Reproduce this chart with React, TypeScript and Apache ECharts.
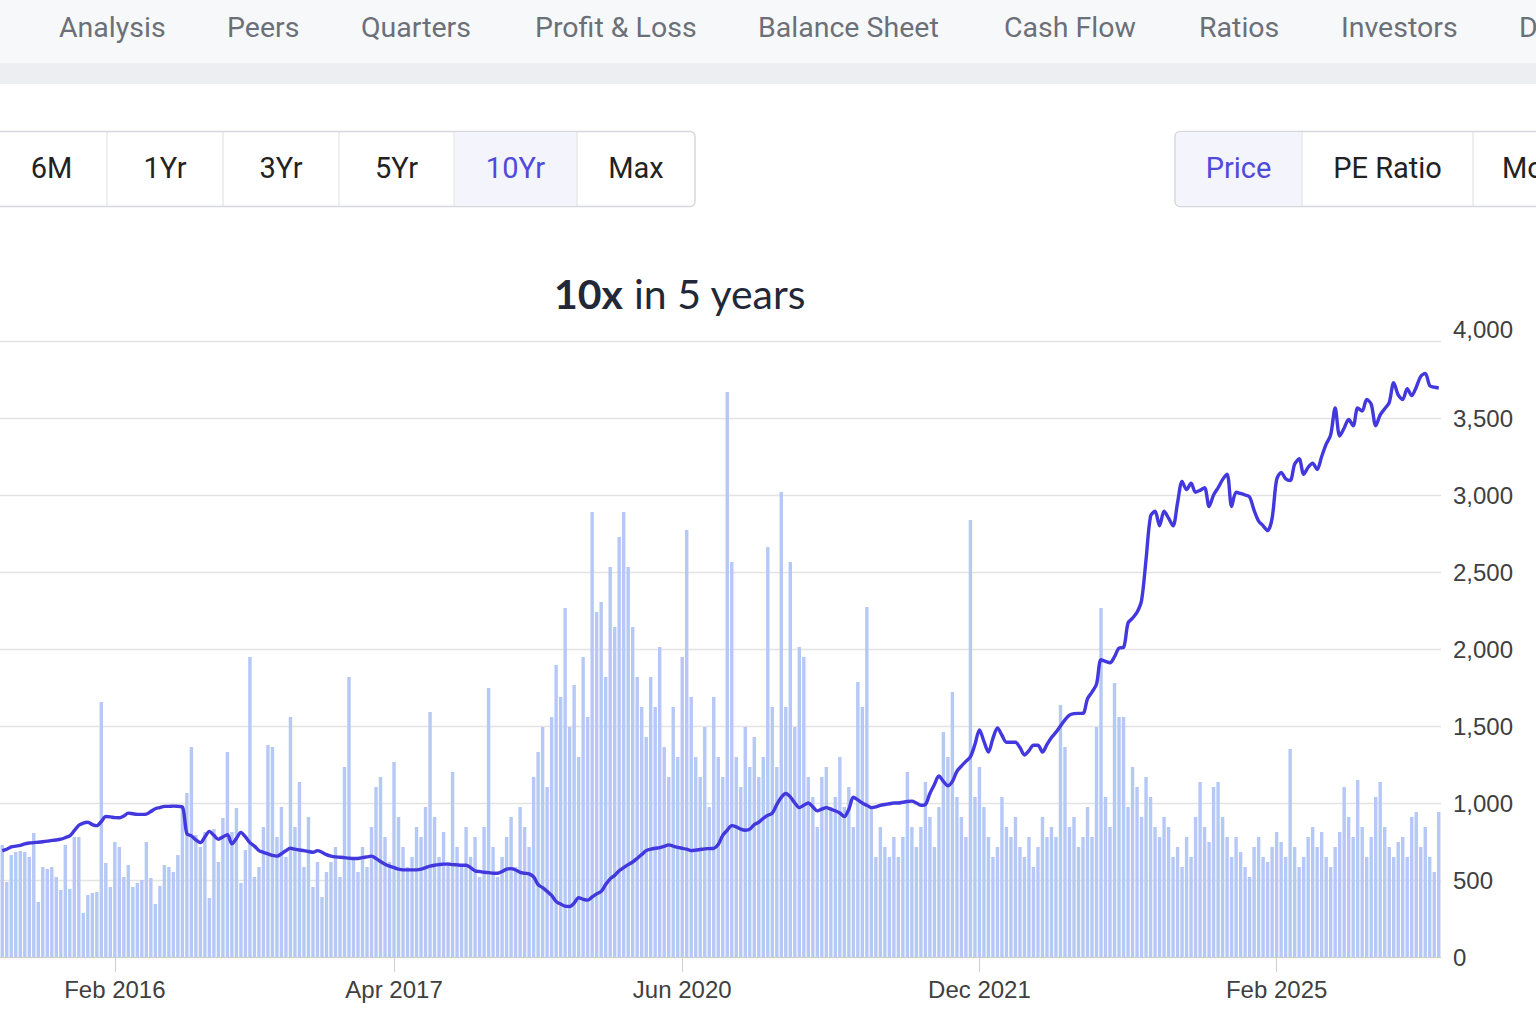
import React, { useEffect, useRef } from "react";
import * as echarts from "echarts";

// ---------- data ----------
const tickLabels = ["Feb 2016", "Apr 2017", "Jun 2020", "Dec 2021", "Feb 2025"];
const tickIndices = [25, 87, 151, 217, 283];

const priceValues = [
  691, 700, 715, 720, 725, 735, 740, 743, 745, 748,
  752, 757, 760, 765, 775, 787, 820, 855, 870, 875,
  860, 853, 880, 912, 910, 905, 904, 915, 934, 930,
  926, 926, 928, 945, 963, 970, 978, 978, 980, 978,
  975, 800, 787, 760, 743, 780, 816, 790, 765, 780,
  794, 735, 770, 809, 780, 743, 720, 691, 680, 670,
  660, 655, 670, 690, 706, 700, 695, 691, 685, 680,
  691, 680, 665, 655, 650, 648, 645, 642, 640, 640,
  645, 650, 655, 640, 620, 603, 590, 580, 570, 566,
  566, 566, 566, 570, 580, 590, 596, 600, 603, 603,
  600, 598, 596, 596, 580, 559, 555, 550, 548, 544,
  544, 555, 570, 574, 565, 550, 544, 540, 520, 470,
  450, 426, 400, 360, 344, 330, 328, 350, 385, 375,
  369, 390, 410, 426, 470, 507, 530, 560, 580, 600,
  617, 640, 665, 691, 700, 706, 710, 718, 728, 720,
  712, 706, 700, 691, 694, 698, 702, 704, 706, 730,
  790, 823, 853, 845, 830, 823, 830, 860, 875, 900,
  920, 934, 990, 1037, 1062, 1040, 1000, 970, 985, 1000,
  975, 949, 960, 970, 960, 949, 935, 912, 960, 1037,
  1020, 1000, 985, 970, 975, 985, 990, 995, 1000, 1000,
  1005, 1010, 1012, 1000, 985, 990, 1062, 1120, 1175, 1140,
  1112, 1140, 1206, 1240, 1270, 1300, 1380, 1475, 1400, 1331,
  1420, 1487, 1440, 1394, 1394, 1394, 1360, 1312, 1340, 1375,
  1375, 1331, 1380, 1425, 1460, 1500, 1540, 1570, 1580, 1582,
  1582, 1677, 1720, 1772, 1930, 1920, 1911, 1950, 2006, 2010,
  2169, 2200, 2238, 2314, 2581, 2862, 2894, 2800, 2894, 2850,
  2800, 2950, 3088, 3035, 3076, 3018, 3030, 3047, 2925, 3000,
  3047, 3100, 3135, 2925, 3018, 3010, 3000, 2987, 2900, 2831,
  2800, 2769, 2850, 3100, 3147, 3106, 3094, 3200, 3235, 3135,
  3180, 3206, 3165, 3250, 3330, 3390, 3565, 3383, 3435, 3490,
  3450, 3565, 3545, 3620, 3590, 3450, 3520, 3560, 3600, 3730,
  3650, 3620, 3690, 3645, 3700, 3770, 3790, 3710, 3700, 3695,
];

const volumeValues = [
  112, 75, 102, 105, 106, 105, 100, 124, 55, 90,
  88, 90, 80, 67, 112, 68, 120, 120, 44, 62,
  64, 65, 255, 94, 70, 115, 110, 80, 92, 70,
  74, 77, 115, 79, 53, 71, 92, 90, 85, 102,
  149, 164, 210, 122, 110, 125, 59, 128, 95, 139,
  205, 125, 149, 74, 107, 300, 80, 90, 130, 212,
  210, 120, 150, 100, 240, 130, 175, 90, 140, 70,
  95, 60, 85, 95, 110, 80, 190, 280, 100, 85,
  110, 90, 130, 170, 180, 120, 95, 195, 140, 110,
  90, 100, 130, 120, 150, 245, 140, 100, 125, 95,
  185, 110, 90, 130, 100, 120, 80, 130, 269, 110,
  80, 100, 120, 140, 90, 150, 130, 110, 180, 205,
  230, 170, 240, 292, 260, 349, 230, 272, 200, 300,
  240, 445, 345, 355, 280, 390, 330, 420, 445, 390,
  330, 280, 250, 220, 280, 250, 310, 210, 180, 250,
  200, 300, 427, 260, 200, 180, 230, 150, 260, 200,
  180, 565, 395, 200, 170, 230, 190, 220, 180, 200,
  410, 250, 190, 465, 250, 395, 230, 310, 300, 180,
  160, 130, 180, 190, 150, 160, 200, 150, 170, 130,
  275, 250, 350, 150, 100, 130, 110, 100, 120, 100,
  120, 185, 130, 110, 130, 175, 140, 110, 150, 225,
  200, 265, 160, 140, 120, 437, 160, 190, 150, 120,
  100, 110, 160, 130, 120, 140, 110, 100, 120, 90,
  110, 140, 120, 130, 120, 252, 210, 130, 140, 110,
  120, 150, 120, 230, 349, 160, 130, 274, 240, 240,
  150, 190, 170, 140, 180, 160, 130, 120, 140, 130,
  100, 110, 90, 120, 100, 140, 175, 130, 115, 170,
  175, 140, 120, 100, 120, 105, 90, 80, 110, 120,
  100, 95, 110, 125, 115, 100, 208, 110, 90, 100,
  120, 130, 110, 125, 100, 90, 110, 125, 170, 140,
  120, 177, 130, 100, 120, 160, 175, 130, 110, 100,
  115, 120, 100, 140, 145, 110, 130, 100, 85, 145,
];

const navItems = ["Analysis", "Peers", "Quarters", "Profit & Loss", "Balance Sheet", "Cash Flow", "Ratios", "Investors", "Documents"];
const rangeButtons = ["6M", "1Yr", "3Yr", "5Yr", "10Yr", "Max"];
const metricButtons = ["Price", "PE Ratio", "More"];
const titleBold = "10x";
const titleRest = " in 5 years";

// ---------- layout (not data) ----------
const navX = [59, 227, 361, 535, 758, 1004, 1199, 1341, 1519];
const rangeEdges = [-20, 107, 223, 339, 454, 577, 695];
const metricEdges = [1175, 1302, 1473, 1640];

export default function App() {
  const ref = useRef<HTMLDivElement>(null);

  useEffect(() => {
    if (!ref.current) return;
    const chart = echarts.init(ref.current, undefined, { renderer: "svg" });
    const categories = priceValues.map((_, i) => {
      const k = tickIndices.indexOf(i);
      return k >= 0 ? tickLabels[k] : "w" + i;
    });
    const isTick = (i: number) => tickIndices.indexOf(i) >= 0;

    const graphic: any[] = [];
    graphic.push({ type: "rect", shape: { x: 0, y: 0, width: 1536, height: 63 }, style: { fill: "#f7f8fa" }, silent: true });
    graphic.push({ type: "rect", shape: { x: 0, y: 63, width: 1536, height: 21 }, style: { fill: "#eceef1" }, silent: true });
    navItems.forEach((t, i) => {
      graphic.push({
        type: "text", x: navX[i], y: 27,
        style: { text: t, fontSize: 28.5, fontFamily: "Roboto", fill: "#6b7078", align: "left", verticalAlign: "middle" },
      });
    });

    // range buttons
    graphic.push({ type: "rect", shape: { x: rangeEdges[0], y: 131.5, width: rangeEdges[6] - rangeEdges[0], height: 75, r: 5 }, style: { fill: "#ffffff", stroke: "#d6d8dd", lineWidth: 1.5 } });
    graphic.push({ type: "rect", shape: { x: rangeEdges[4] + 1, y: 132.5, width: rangeEdges[5] - rangeEdges[4] - 1.5, height: 73 }, style: { fill: "#f3f4fc" } });
    for (let i = 1; i < 6; i++) {
      graphic.push({ type: "line", shape: { x1: rangeEdges[i], y1: 132, x2: rangeEdges[i], y2: 206 }, style: { stroke: "#dcdee2", lineWidth: 1 } });
    }
    rangeButtons.forEach((t, i) => {
      graphic.push({
        type: "text", x: (rangeEdges[i] + rangeEdges[i + 1]) / 2 + (i === 0 ? 8 : 0), y: 168,
        style: { text: t, fontSize: 29, fontFamily: "Roboto", fill: i === 4 ? "#5149d9" : "#222222", align: "center", verticalAlign: "middle" },
      });
    });

    // metric buttons
    graphic.push({ type: "rect", shape: { x: metricEdges[0], y: 131.5, width: 500, height: 75, r: 5 }, style: { fill: "#ffffff", stroke: "#d6d8dd", lineWidth: 1.5 } });
    graphic.push({ type: "rect", shape: { x: metricEdges[0] + 1, y: 132.5, width: metricEdges[1] - metricEdges[0] - 1.5, height: 73, r: [4, 0, 0, 4] }, style: { fill: "#f3f4fc" } });
    for (let i = 1; i < 3; i++) {
      graphic.push({ type: "line", shape: { x1: metricEdges[i], y1: 132, x2: metricEdges[i], y2: 206 }, style: { stroke: "#dcdee2", lineWidth: 1 } });
    }
    metricButtons.forEach((t, i) => {
      const last = i === 2;
      graphic.push({
        type: "text", x: last ? 1502 : (metricEdges[i] + metricEdges[i + 1]) / 2, y: 168,
        style: { text: t, fontSize: 29, fontFamily: "Roboto", fill: i === 0 ? "#5149d9" : "#222222", align: last ? "left" : "center", verticalAlign: "middle" },
      });
    });

    // title
    graphic.push({
      type: "text", x: 680, y: 293,
      style: {
        text: "{b|" + titleBold + "}{r|" + titleRest + "}",
        align: "center", verticalAlign: "middle",
        rich: {
          b: { fontSize: 41, fontWeight: "bold", fontFamily: "Lato", fill: "#232838" },
          r: { fontSize: 41, fontWeight: "normal", fontFamily: "Lato", fill: "#232838" },
        },
      },
    });

    chart.setOption({
      animation: false,
      backgroundColor: "#ffffff",
      graphic,
      grid: { left: 0, right: 95, top: 341, bottom: 67, containLabel: false },
      xAxis: {
        type: "category",
        data: categories,
        boundaryGap: true,
        axisLine: { show: true, lineStyle: { color: "#cfcfcf", width: 1 } },
        axisTick: { show: true, alignWithLabel: true, interval: (i: number) => isTick(i), length: 15, lineStyle: { color: "#cfcfcf" } },
        axisLabel: {
          interval: (i: number) => isTick(i),
          formatter: (v: string) => (v.startsWith("w") ? "" : v),
          fontSize: 24, color: "#404040", margin: 20, fontFamily: "Liberation Sans",
        },
        splitLine: { show: false },
      },
      yAxis: [
        {
          type: "value", position: "right", min: 0, max: 4000, interval: 500,
          axisLine: { show: false }, axisTick: { show: false },
          axisLabel: { fontSize: 24, color: "#404040", margin: 12, fontFamily: "Liberation Sans", verticalAlignMaxLabel: "bottom" },
          splitLine: { show: true, lineStyle: { color: "#e3e3e3", width: 1.3 } },
        },
        { type: "value", min: 0, max: 616, show: false, splitLine: { show: false } },
      ],
      series: [
        {
          name: "Volume", type: "bar", yAxisIndex: 1, data: volumeValues,
          barCategoryGap: "24%", itemStyle: { color: "#b6c9f6" }, silent: true, z: 1,
        },
        {
          name: "Price", type: "line", yAxisIndex: 0, data: priceValues,
          showSymbol: false, symbol: "none", smooth: 0.3,
          lineStyle: { color: "#4238de", width: 3.4 }, z: 3,
        },
      ],
    });
    return () => chart.dispose();
  }, []);

  return <div ref={ref} style={{ position: "fixed", left: 0, top: 0, width: 1536, height: 1024 }} />;
}
